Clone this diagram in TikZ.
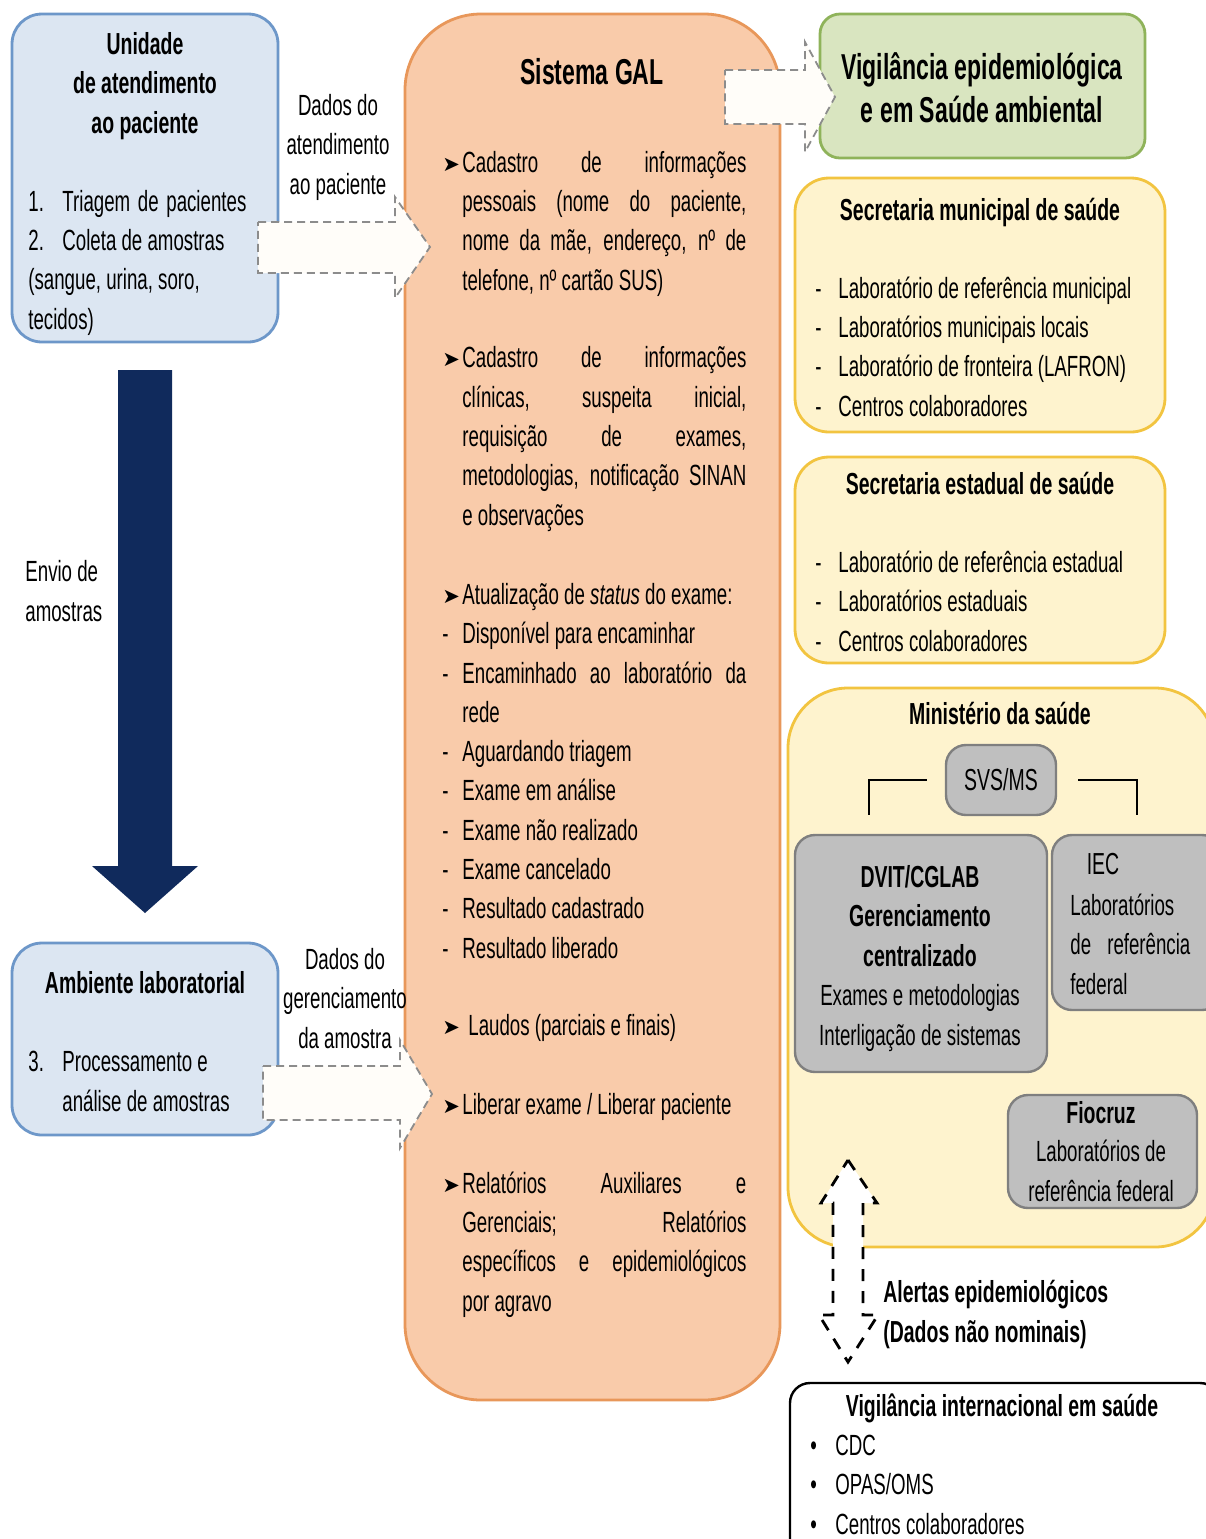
\documentclass[tikz,border=0pt]{standalone}
\usepackage{fontspec}
\setmainfont[FakeStretch=0.64]{Liberation Sans}
\newfontfamily\symfont{DejaVu Sans}

\definecolor{azulfundo}{HTML}{DCE6F2}
\definecolor{azulborda}{HTML}{6D97C9}
\definecolor{laranjafundo}{HTML}{F9CBAA}
\definecolor{laranjaborda}{HTML}{E8975A}
\definecolor{verdefundo}{HTML}{D9E5C0}
\definecolor{verdeborda}{HTML}{8FB35A}
\definecolor{amarelofundo}{HTML}{FEF3CE}
\definecolor{amareloborda}{HTML}{F2C440}
\definecolor{cinzafundo}{HTML}{BFBFBF}
\definecolor{cinzaborda}{HTML}{7F7F7F}
\definecolor{marinho}{HTML}{102A5C}
\definecolor{creme}{HTML}{FFFDF9}
\definecolor{tracejado}{HTML}{8C8C8C}

\newcommand{\fnormal}{\fontsize{14.6}{19.64}\selectfont}
\newcommand{\fmedio}{\fontsize{15.2}{19.64}\selectfont}
\newcommand{\ftitulo}{\fontsize{15.2}{19.64}\selectfont\bfseries}
\newcommand{\fgrande}{\fontsize{18}{21.5}\selectfont\bfseries}

% linhas do Sistema GAL
\newcommand{\seta}{\raisebox{0.5pt}{\symfont\fontsize{10.5}{10.5}\selectfont ➤}}
\newcommand{\jl}[2]{\makebox[10pt][l]{#1}\makebox[142pt][s]{#2}}
\newcommand{\pl}[2]{\makebox[10pt][l]{#1}#2}
\newcommand{\traco}[1]{\makebox[11.5pt][l]{-}#1}
\newcommand{\bola}[1]{\makebox[12.5pt][l]{•}#1}

\begin{document}
\begin{tikzpicture}[x=0.5pt,y=-0.5pt,
  caixa/.style={draw,inner sep=0pt,line width=1.4pt},
  azul/.style={caixa,fill=azulfundo,draw=azulborda,rounded corners=15pt},
  laranja/.style={caixa,fill=laranjafundo,draw=laranjaborda,rounded corners=38pt},
  verde/.style={caixa,fill=verdefundo,draw=verdeborda,rounded corners=10pt},
  amarelo/.style={caixa,fill=amarelofundo,draw=amareloborda,rounded corners=17pt},
  cinza/.style={caixa,fill=cinzafundo,draw=cinzaborda,line width=1.2pt,rounded corners=10pt},
  preta/.style={caixa,fill=white,draw=black,line width=1.2pt,rounded corners=10pt},
  setaclara/.style={fill=creme,draw=tracejado,line width=0.9pt,dash pattern=on 4pt off 2.5pt},
  setapreta/.style={fill=white,draw=black,line width=1.4pt,dash pattern=on 6pt off 5pt},
  texto/.style={font=\fnormal,align=left,inner sep=0pt},
  centro/.style={font=\fnormal,align=center,inner sep=0pt},
  titulo/.style={font=\ftitulo,align=center,inner sep=0pt},
  grande/.style={font=\fgrande,align=center,inner sep=0pt}]

\fill[white] (0,0) rectangle (1206,1539);
\useasboundingbox (0,0) rectangle (1206,1539);

% caixas
\node[azul,minimum width=133pt,minimum height=164pt] (unidade) at (145,178) {};
\node[azul,minimum width=133pt,minimum height=96pt] (ambiente) at (145,1039) {};
\node[laranja,minimum width=187.5pt,minimum height=693pt] (gal) at (592.5,707) {};
\node[verde,minimum width=162.5pt,minimum height=72pt] (vigilancia) at (982.5,86) {};
\node[amarelo,minimum width=185pt,minimum height=127pt] (municipal) at (980,305) {};
\node[amarelo,minimum width=185pt,minimum height=103pt] (estadual) at (980,560) {};
\node[amarelo,rounded corners=30pt,minimum width=213.5pt,minimum height=279.5pt] (ministerio) at (1001.5,967.5) {};
\node[cinza,minimum width=55pt,minimum height=35pt,font=\fmedio] (svs) at (1001,780) {SVS/MS};
\node[cinza,minimum width=126pt,minimum height=118.5pt] (dvit) at (921,953.5) {};
\node[cinza,minimum width=85pt,minimum height=87.5pt] (iec) at (1137,922.5) {};
\node[cinza,minimum width=94.5pt,minimum height=56.5pt] (fiocruz) at (1102.5,1151.5) {};
\node[preta,minimum width=215pt,minimum height=88.5pt] (internacional) at (1005,1471.5) {};

% ligacoes da SVS/MS
\coordinate (ligesq) at (869,815);
\coordinate (ligdir) at (1137,815);
\draw[line width=0.9pt] ([xshift=-9pt]svs.west) -| (ligesq);
\draw[line width=0.9pt] ([xshift=10.5pt]svs.east) -| (ligdir);

% setas
\fill[marinho] (118,370) -- (172,370) -- (172,866) -- (198,866) -- (145,913)
  -- (92,866) -- (118,866) -- cycle;
\draw[setaclara] (258,222) -- (395,222) -- (395,197) -- (430,247) -- (395,298)
  -- (395,273) -- (258,273) -- cycle;
\draw[setaclara] (725,70) -- (805,70) -- (805,42) -- (835,97) -- (805,152)
  -- (805,124) -- (725,124) -- cycle;
\draw[setaclara] (263,1066) -- (400,1066) -- (400,1040) -- (432,1094) -- (400,1148)
  -- (400,1120) -- (263,1120) -- cycle;
\draw[setapreta] (848,1160) -- (877,1203) -- (863,1203) -- (863,1315) -- (878,1315)
  -- (848,1362) -- (819,1315) -- (833,1315) -- (833,1203) -- (821,1203) -- cycle;

% textos (base = ultima linha)
\node[titulo,anchor=base] (tunidade) at (145,133) {Unidade\\de atendimento\\ao paciente};
\node[texto,anchor=base west] (lunidade) at (28,329)
  {\makebox[17pt][l]{1.}\makebox[92pt][s]{Triagem de pacientes}\\
   \makebox[17pt][l]{2.}Coleta de amostras\\
   (sangue, urina, soro,\\
   tecidos)};
\node[centro,anchor=base] (datend) at (338,194) {Dados do\\atendimento\\ao paciente};
\node[texto,anchor=base west] (envio) at (25,621) {Envio de\\amostras};
\node[titulo,anchor=base] (tamb) at (145,993) {Ambiente laboratorial};
\node[texto,anchor=base west] (lamb) at (28,1111)
  {\makebox[17pt][l]{3.}Processamento e\\
   \hspace*{17pt}análise de amostras};
\node[centro,anchor=base] (dger) at (345,1048) {Dados do\\gerenciamento\\da amostra};

\node[grande,anchor=base] (tgal) at (592,84) {Sistema GAL};
\node[texto,anchor=base west] (cad1) at (442,290)
  {\jl{\seta}{Cadastro de informações}\\
   \jl{}{pessoais (nome do paciente,}\\
   \jl{}{nome da mãe, endereço, nº de}\\
   \pl{}{telefone, nº cartão SUS)}};
\node[texto,anchor=base west] (cad2) at (442,525)
  {\jl{\seta}{Cadastro de informações}\\
   \jl{}{clínicas, suspeita inicial,}\\
   \jl{}{requisição de exames,}\\
   \jl{}{metodologias, notificação SINAN}\\
   \pl{}{e observações}};
\node[texto,anchor=base west] (status) at (442,958)
  {\pl{\seta}{Atualização de \textit{status} do exame:}\\
   \pl{-}{Disponível para encaminhar}\\
   \jl{-}{Encaminhado ao laboratório da}\\
   \pl{}{rede}\\
   \pl{-}{Aguardando triagem}\\
   \pl{-}{Exame em análise}\\
   \pl{-}{Exame não realizado}\\
   \pl{-}{Exame cancelado}\\
   \pl{-}{Resultado cadastrado}\\
   \pl{-}{Resultado liberado}};
\node[texto,anchor=base west] (laudos) at (442,1035) {\pl{\seta}{\hspace{3pt}Laudos (parciais e finais)}};
\node[texto,anchor=base west] (liberar) at (442,1114) {\pl{\seta}{Liberar exame / Liberar paciente}};
\node[texto,anchor=base west] (relat) at (442,1311)
  {\jl{\seta}{Relatórios Auxiliares e}\\
   \jl{}{Gerenciais; Relatórios}\\
   \jl{}{específicos e epidemiológicos}\\
   \pl{}{por agravo}};

\node[grande,anchor=base] (tvig) at (982,122) {Vigilância epidemiológica\\e em Saúde ambiental};
\node[titulo,anchor=base] (tmun) at (980,220) {Secretaria municipal de saúde};
\node[texto,anchor=base west] (lmun) at (815,416)
  {\traco{Laboratório de referência municipal}\\
   \traco{Laboratórios municipais locais}\\
   \traco{Laboratório de fronteira (LAFRON)}\\
   \traco{Centros colaboradores}};
\node[titulo,anchor=base] (test) at (980,494) {Secretaria estadual de saúde};
\node[texto,anchor=base west] (lest) at (815,651)
  {\traco{Laboratório de referência estadual}\\
   \traco{Laboratórios estaduais}\\
   \traco{Centros colaboradores}};

\node[titulo,anchor=base] (tmin) at (1000,724) {Ministério da saúde};
\node[titulo,anchor=base] (tdvit) at (920,966) {DVIT/CGLAB\\Gerenciamento\\centralizado};
\node[centro,anchor=base] (ldvit) at (920,1045) {Exames e metodologias\\Interligação de sistemas};
\node[centro,font=\fmedio,anchor=base] (tiec) at (1103,874) {IEC};
\node[texto,anchor=base west] (liec) at (1070,994)
  {Laboratórios\\\makebox[60pt][s]{de referência}\\federal};
\node[titulo,anchor=base] (tfio) at (1101,1123) {Fiocruz};
\node[centro,anchor=base] (lfio) at (1101,1201) {Laboratórios de\\referência federal};

\node[titulo,align=left,anchor=base west] (alertas) at (883,1342)
  {Alertas epidemiológicos\\(Dados não nominais)};
\node[titulo,anchor=base] (tint) at (1002,1416) {Vigilância internacional em saúde};
\node[texto,anchor=base west] (lint) at (810,1534)
  {\bola{CDC}\\\bola{OPAS/OMS}\\\bola{Centros colaboradores}};
\end{tikzpicture}
\end{document}
